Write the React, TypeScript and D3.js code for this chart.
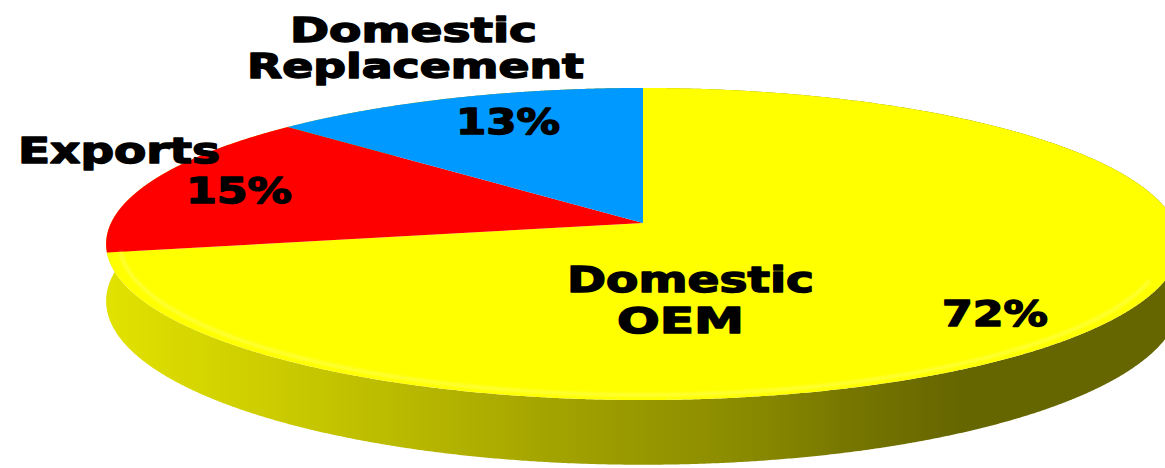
import React, { useMemo } from "react";
import * as d3 from "d3";

// ---- data ----
const categories = ["Domestic OEM", "Exports", "Domestic Replacement"];
const values = [72, 15, 13];
const topColors = ["#FFFF00", "#FF0000", "#0099FF"];
const labelLines = [["Domestic", "OEM"], ["Exports"], ["Domestic", "Replacement"]];

// ---- layout (not data) ----
const W = 1165;
const H = 468;
const geo = { cx: 643, cy: 223, a: 532, b: 153.2, k: 0.1346, d: 56 };

// label placement: [x, baseline, width, fontSize] per line
const nameLayout: [number, number, number, number][][] = [
  [[567, 292, 247, 35], [617, 333, 127, 35]],
  [[18, 163, 202, 35]],
  [[290, 42, 247, 33], [247, 78, 337, 33]],
];
const pctLayout: [number, number, number, number][] = [
  [942, 326, 106, 35],
  [186, 203, 106, 35],
  [456, 134, 104, 35],
];

function project(theta: number, h: number, r = 1): [number, number] {
  const u = r * Math.sin(theta);
  const v = -r * Math.cos(theta);
  const w = 1 - geo.k * v;
  return [geo.cx + (geo.a * u) / w, geo.cy + (geo.b * v + geo.d * h) / w];
}

function samples(s: number, e: number): number[] {
  const step = Math.PI / 720;
  const arr = d3.range(s, e, step);
  arr.push(e);
  return arr;
}

export default function App() {
  const arcs = useMemo(
    () => d3.pie<number>().sort(null).value((d) => d)(values),
    []
  );
  const line = d3.line<[number, number]>().curve(d3.curveLinear);

  const gx0 = 106;
  const gx1 = 1180;
  const gStops: [number, string][] = [
    [106, "#E2E200"],
    [300, "#C8C800"],
    [560, "#A2A200"],
    [760, "#888800"],
    [860, "#747400"],
    [960, "#666600"],
    [1180, "#666600"],
  ];

  // side wall: full ring under the top face
  const ringT = samples(0, 2 * Math.PI);
  const wallTop = ringT.map((t) => project(t, 0));
  const wallBot = ringT.slice().reverse().map((t) => project(t, 1));
  const wallPath = (line([...wallTop, ...wallBot]) || "") + "Z";

  const tops = arcs.map((a, i) => {
    const ts = samples(a.startAngle, a.endAngle);
    const pts: [number, number][] = [[geo.cx, geo.cy], ...ts.map((t) => project(t, 0))];
    return <path key={"t" + i} d={(line(pts) || "") + "Z"} fill={topColors[i]} />;
  });

  // rim highlight just inside the front edge of the top face
  const rimT = samples(Math.PI * 0.62, Math.PI * 1.44);
  const rimPath = line(rimT.map((t) => project(t, 0, 0.975))) || "";

  const texts: React.ReactNode[] = [];
  const mk = (key: string, s: string, [x, y, w, fs]: [number, number, number, number]) => (
    <text key={key} x={x} y={y} textLength={w} lengthAdjust="spacingAndGlyphs"
      fill="#000" stroke="#000" strokeWidth={1.4} strokeLinejoin="round"
      style={{ fontFamily: "'DejaVu Sans', Arial, sans-serif", fontWeight: 700, fontSize: fs }}>{s}</text>
  );
  categories.forEach((c, i) => {
    labelLines[i].forEach((ln, j) => texts.push(mk(`n${i}-${j}`, ln, nameLayout[i][j])));
    texts.push(mk(`p${i}`, values[i] + "%", pctLayout[i]));
  });

  return (
    <svg width={W} height={H} style={{ position: "absolute", left: 0, top: 0, background: "#fff" }}>
      <defs>
        <linearGradient id="sideYellow" gradientUnits="userSpaceOnUse" x1={gx0} y1={0} x2={gx1} y2={0}>
          {gStops.map(([x, c], i) => (
            <stop key={i} offset={(x - gx0) / (gx1 - gx0)} stopColor={c} />
          ))}
        </linearGradient>
        <filter id="soft" x="-5%" y="-5%" width="110%" height="110%">
          <feGaussianBlur stdDeviation="0.6" />
        </filter>
        <filter id="rimBlur" x="-5%" y="-20%" width="110%" height="140%">
          <feGaussianBlur stdDeviation="1.5" />
        </filter>
      </defs>
      <rect width={W} height={H} fill="#fff" />
      <g filter="url(#soft)">
        <path d={wallPath} fill="url(#sideYellow)" />
        {tops}
      </g>
      <path d={rimPath} fill="none" stroke="#FFFF70" strokeWidth={3} filter="url(#rimBlur)" opacity={0.6} />
      {texts}
    </svg>
  );
}
